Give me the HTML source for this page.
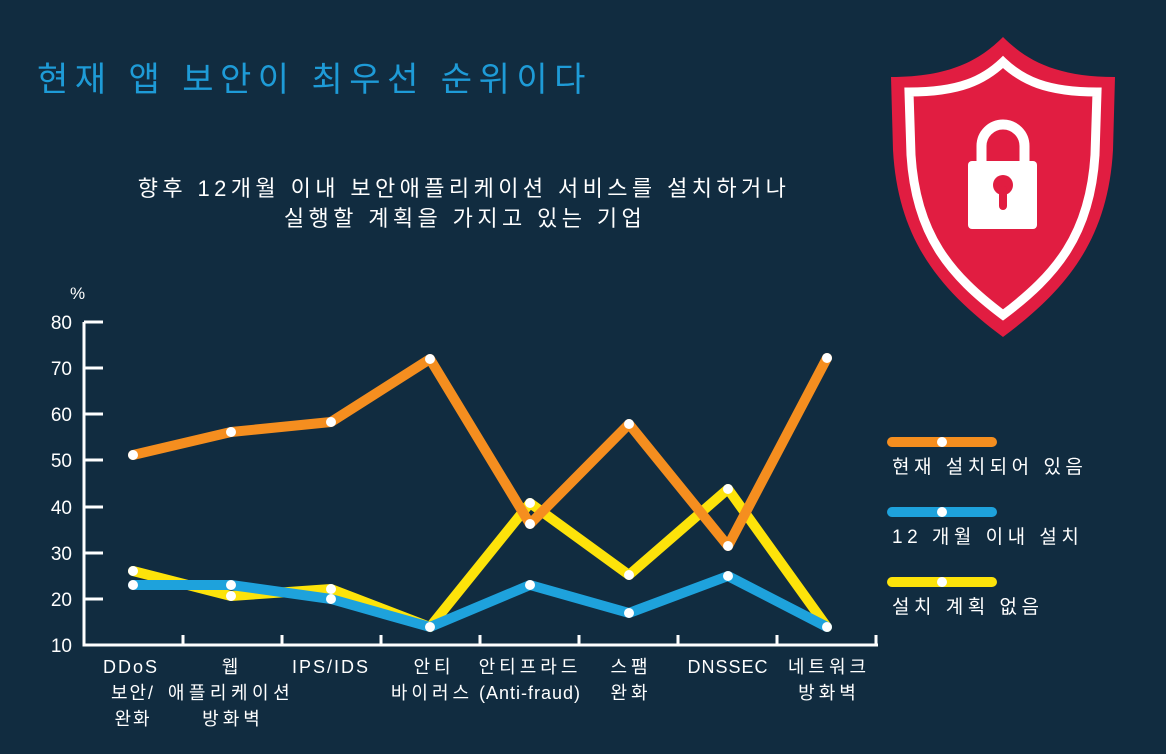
<!DOCTYPE html>
<html><head><meta charset="utf-8"><style>
html,body{margin:0;padding:0;background:#112c40;}
body{width:1166px;height:749px;overflow:hidden;font-family:"Liberation Sans","Noto Sans CJK KR",sans-serif;}
</style></head><body>
<svg width="1166" height="749" viewBox="0 0 1166 749" xmlns="http://www.w3.org/2000/svg" font-family="Liberation Sans, Noto Sans CJK KR, sans-serif">
<rect width="1166" height="749" fill="#112c40"/>
<text x="37" y="91" font-size="34" fill="#1e9bd7" letter-spacing="6.5">현재 앱 보안이 최우선 순위이다</text>
<text x="464" y="196" font-size="22" fill="#fff" text-anchor="middle" letter-spacing="4.4">향후 12개월 이내 보안애플리케이션 서비스를 설치하거나</text>
<text x="465" y="226" font-size="22" fill="#fff" text-anchor="middle" letter-spacing="4.4">실행할 계획을 가지고 있는 기업</text>
<!-- shield -->
<path d="M1003,37 C980,60 950,77 891,77 L893,150 C898,240 940,290 1003,337 C1066,290 1108,240 1113,150 L1115,77 C1056,77 1026,60 1003,37Z" fill="#e11d41"/>
<path d="M1003,62 C984,80 960,92 909,92 L911,155 C916,235 950,275 1003,315 C1056,275 1090,235 1095,155 L1097,92 C1046,92 1022,80 1003,62Z" fill="none" stroke="#fff" stroke-width="9"/>
<path d="M981.5,164 L981.5,146 A21.5,21.5 0 0 1 1024.5,146 L1024.5,164" fill="none" stroke="#fff" stroke-width="10"/>
<rect x="968" y="161" width="69" height="68" rx="4" fill="#fff"/>
<circle cx="1003" cy="185" r="10" fill="#e11d41"/>
<rect x="999" y="186" width="8" height="24" rx="4" fill="#e11d41"/>
<!-- axes -->
<g stroke="#fff" stroke-width="3" fill="none">
<path d="M84,322 L84,645 L878,645"/>
<path d="M84,322H103M84,368H103M84,414H103M84,460H103M84,507H103M84,553H103M84,599H103"/>
<path d="M183,645V635M282,645V635M381,645V635M480,645V635M579,645V635M678,645V635M777,645V635M876,645V635"/>
</g>
<g fill="#fff" font-size="19" text-anchor="end">
<text x="72" y="329">80</text><text x="72" y="375">70</text><text x="72" y="421">60</text><text x="72" y="467">50</text><text x="72" y="514">40</text><text x="72" y="560">30</text><text x="72" y="606">20</text><text x="72" y="652">10</text>
</g>
<text x="70" y="299" fill="#fff" font-size="17">%</text>
<g fill="#fff" font-size="18" text-anchor="middle" letter-spacing="2">
<text x="131" y="673">DDoS</text><text x="133" y="699">보안/</text><text x="133" y="725">완화</text>
<text x="231" y="673">웹</text><text x="231" y="699" letter-spacing="4.5">애플리케이션</text><text x="233" y="725" letter-spacing="4">방화벽</text>
<text x="331" y="673">IPS/IDS</text>
<text x="434" y="673" letter-spacing="4">안티</text><text x="432" y="699" letter-spacing="4">바이러스</text>
<text x="530" y="673" letter-spacing="4">안티프라드</text><text x="530" y="699" letter-spacing="1">(Anti-fraud)</text>
<text x="631" y="673" letter-spacing="4">스팸</text><text x="631" y="699" letter-spacing="4">완화</text>
<text x="728" y="673" letter-spacing="1">DNSSEC</text>
<text x="829" y="673" letter-spacing="4">네트워크</text><text x="829" y="699" letter-spacing="4">방화벽</text>
</g>
<g fill="none" stroke-width="10" stroke-linejoin="round" stroke-linecap="round">
<polyline stroke="#fde30a" points="133,571 231,596 331,589 430,627 530,503 629,575 728,489 827,627"/>
<polyline stroke="#1ea2dc" points="133,585 231,585 331,599 430,627 530,585 629,613 728,576 827,627"/>
<polyline stroke="#f58e1f" points="133,455 231,432 331,422 430,359 530,524 629,424 728,546 827,358"/>
</g>
<g fill="#fff">
<circle cx="133" cy="571" r="5"/><circle cx="231" cy="596" r="5"/><circle cx="331" cy="589" r="5"/><circle cx="530" cy="503" r="5"/><circle cx="629" cy="575" r="5"/><circle cx="728" cy="489" r="5"/>
<circle cx="133" cy="585" r="5"/><circle cx="231" cy="585" r="5"/><circle cx="331" cy="599" r="5"/><circle cx="430" cy="627" r="5"/><circle cx="530" cy="585" r="5"/><circle cx="629" cy="613" r="5"/><circle cx="728" cy="576" r="5"/><circle cx="827" cy="627" r="5"/>
<circle cx="133" cy="455" r="5"/><circle cx="231" cy="432" r="5"/><circle cx="331" cy="422" r="5"/><circle cx="430" cy="359" r="5"/><circle cx="530" cy="524" r="5"/><circle cx="629" cy="424" r="5"/><circle cx="728" cy="546" r="5"/><circle cx="827" cy="358" r="5"/>
</g>
<!-- legend -->
<g stroke-width="10" stroke-linecap="round">
<line x1="892" y1="442" x2="992" y2="442" stroke="#f58e1f"/>
<line x1="892" y1="512" x2="992" y2="512" stroke="#1ea2dc"/>
<line x1="892" y1="582" x2="992" y2="582" stroke="#fde30a"/>
</g>
<g fill="#fff"><circle cx="942" cy="442" r="5"/><circle cx="942" cy="512" r="5"/><circle cx="942" cy="582" r="5"/></g>
<g fill="#fff" font-size="19" letter-spacing="4.5">
<text x="892" y="473">현재 설치되어 있음</text>
<text x="892" y="543">12 개월 이내 설치</text>
<text x="892" y="613">설치 계획 없음</text>
</g>
</svg>
</body></html>
